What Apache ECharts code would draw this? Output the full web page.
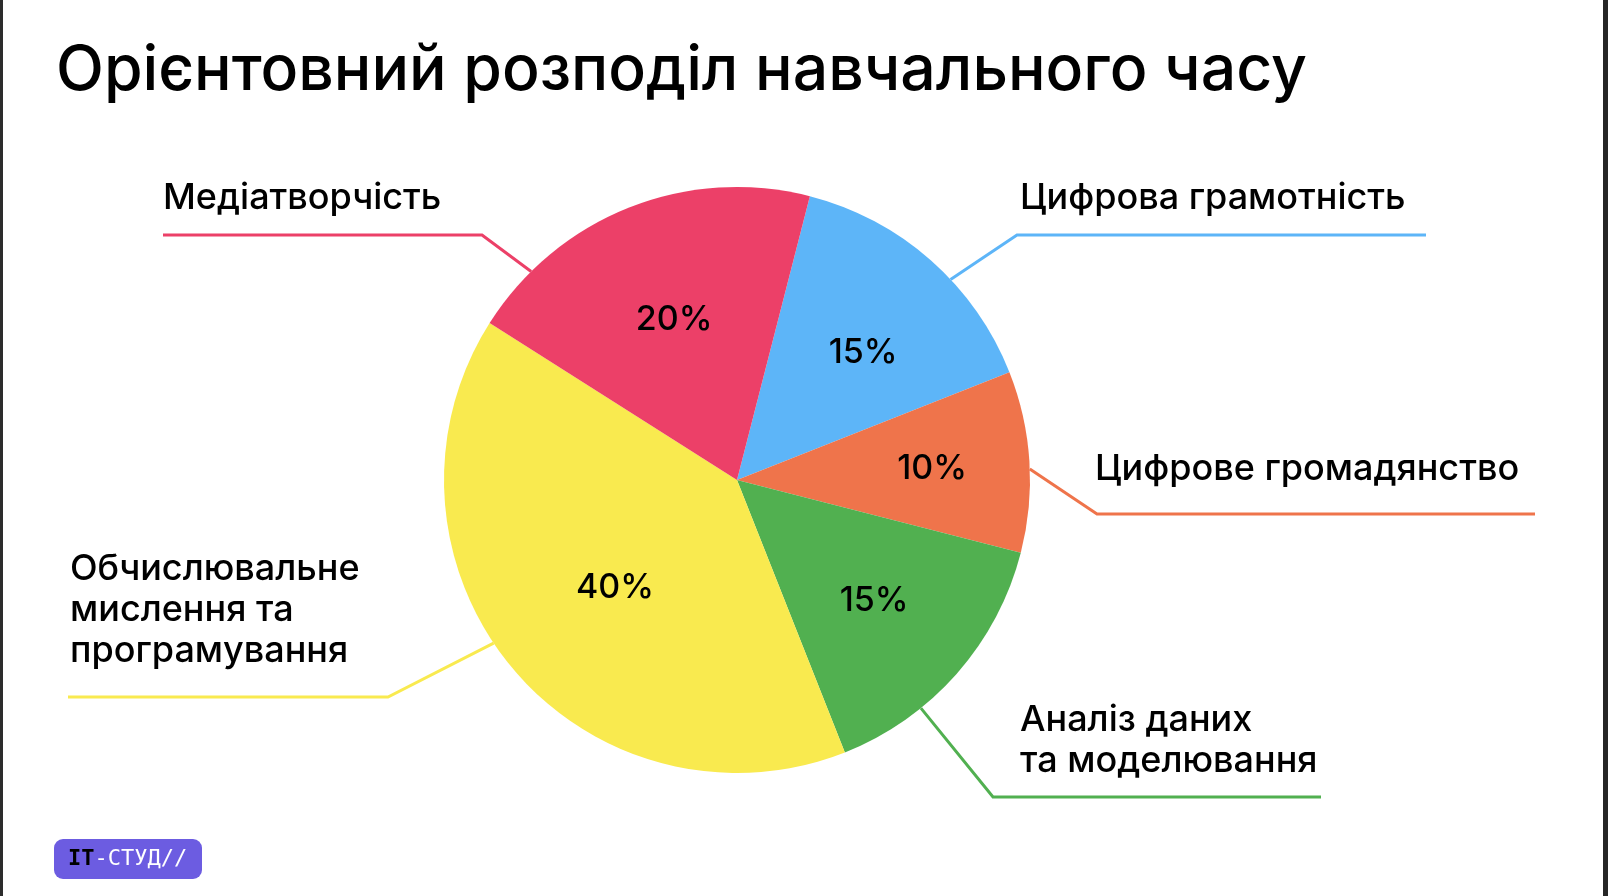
<!DOCTYPE html>
<html><head><meta charset="utf-8">
<script src="https://cdn.jsdelivr.net/npm/echarts@6/dist/echarts.min.js"></script>
<style>html,body{margin:0;padding:0;background:#fff;overflow:hidden}#c{width:1608px;height:896px}</style>
</head><body><div id="c"></div>
<script>
// ---- data ----
const titleText = 'Орієнтовний розподіл навчального часу';
const categories = [
  'Цифрова грамотність',
  'Цифрове громадянство',
  'Аналіз даних\nта моделювання',
  'Обчислювальне\nмислення та\nпрограмування',
  'Медіатворчість'
];
const shares = [15, 10, 15, 40, 20];
const sliceColors = ['#5DB5F8', '#EF744B', '#51B050', '#F9EA4F', '#EC4068'];
const logoLeft = 'IT';
const logoRight = '-СТУД//';

// ---- layout ----
const CX = 737, CY = 480, R = 293, START = 75.6;
const FONT = 'Inter, "Noto Sans", sans-serif';
const labelLayouts = [
  { frac: 0.60, bend: [1017, 235], endX: 1426, tx: 1020, ty: 198 },
  { frac: 0.54, bend: [1097, 514], endX: 1535, tx: 1095, ty: 469 },
  { frac: 0.68, bend: [993, 797], endX: 1321, tx: 1020, ty: 741 },
  { frac: 0.54, bend: [388, 697], endX: 68, tx: 70, ty: 610 },
  { frac: 0.18, bend: [482, 235], endX: 163, tx: 163, ty: 198 }
];
// percent label placement: fraction of radius and angle tweak (deg)
const pctPlacement = [
  { f: 0.611, da: 3.4 },
  { f: 0.667, da: 0.4 },
  { f: 0.624, da: 0 },
  { f: 0.555, da: -1.8 },
  { f: 0.588, da: 0.2 }
];
const total = shares.reduce((a, b) => a + b, 0);
function sliceStartDeg(i) {
  let cum = 0;
  for (let k = 0; k < i; k++) cum += shares[k];
  return (90 - START) + 360 * cum / total;
}
function polar(deg, r) {
  const a = deg * Math.PI / 180;
  return [CX + r * Math.sin(a), CY - r * Math.cos(a)];
}
function anchorPoint(i) {
  return polar(sliceStartDeg(i) + labelLayouts[i].frac * 360 * shares[i] / total, R);
}
function pctPoint(i) {
  const mid = sliceStartDeg(i) + 0.5 * 360 * shares[i] / total + pctPlacement[i].da;
  return polar(mid, pctPlacement[i].f * R);
}

const pieData = categories.map((n, i) => ({ name: n, value: shares[i], itemStyle: { color: sliceColors[i] } }));

const chart = echarts.init(document.getElementById('c'), null, { renderer: 'canvas' });
chart.setOption({
  backgroundColor: '#fff',
  animation: false,
  title: {
    text: titleText, left: 51, top: 30,
    textStyle: { fontFamily: FONT, fontSize: 62.5, fontWeight: 500, color: '#000', lineHeight: 72 }
  },
  series: [
    {
      type: 'pie', center: [CX, CY], radius: [0, R], startAngle: START, clockwise: true,
      avoidLabelOverlap: false, silent: true,
      data: pieData,
      itemStyle: { borderWidth: 0 },
      label: {
        show: true, position: 'outside', formatter: '{b}',
        fontFamily: FONT, fontSize: 36, fontWeight: 500, lineHeight: 41, color: '#000'
      },
      labelLine: { show: true, length: 10, length2: 10, lineStyle: { width: 3 } },
      labelLayout: function (p) {
        const L = labelLayouts[p.dataIndex];
        return {
          x: L.tx, y: L.ty, align: 'left', verticalAlign: 'middle',
          labelLinePoints: [anchorPoint(p.dataIndex), L.bend, [L.endX, L.bend[1]]]
        };
      }
    },
    {
      type: 'pie', center: [CX, CY], radius: [0, R], startAngle: START, clockwise: true,
      silent: true, z: 5, avoidLabelOverlap: false,
      data: categories.map((n, i) => ({ name: n, value: shares[i] })),
      itemStyle: { color: 'rgba(0,0,0,0)', borderWidth: 0 },
      label: {
        show: true, position: 'inside', formatter: '{c}%',
        fontFamily: FONT, fontSize: 34, fontWeight: 500, color: '#000'
      },
      labelLine: { show: false },
      labelLayout: function (p) {
        const pt = pctPoint(p.dataIndex);
        return { x: pt[0], y: pt[1], align: 'center', verticalAlign: 'middle' };
      }
    }
  ],
  graphic: [
    { type: 'rect', left: 0, top: 0, shape: { width: 3, height: 896 }, style: { fill: '#2c2c2c' } },
    { type: 'rect', right: 0, top: 0, shape: { width: 5, height: 896 }, style: { fill: '#262626' } },
    {
      type: 'group', left: 54, top: 839,
      children: [
        { type: 'rect', shape: { x: 0, y: 0, width: 148, height: 40, r: 9 }, style: { fill: '#6C5CE1' } },
        {
          type: 'text', x: 14, y: 20,
          style: {
            text: '{a|' + logoLeft + '}{b|' + logoRight + '}',
            verticalAlign: 'middle',
            rich: {
              a: { fontFamily: '"DejaVu Sans Mono", monospace', fontSize: 22, fontWeight: 'bold', fill: '#000' },
              b: { fontFamily: '"DejaVu Sans Mono", monospace', fontSize: 22, fill: '#fff' }
            }
          }
        }
      ]
    }
  ]
});
</script></body></html>
